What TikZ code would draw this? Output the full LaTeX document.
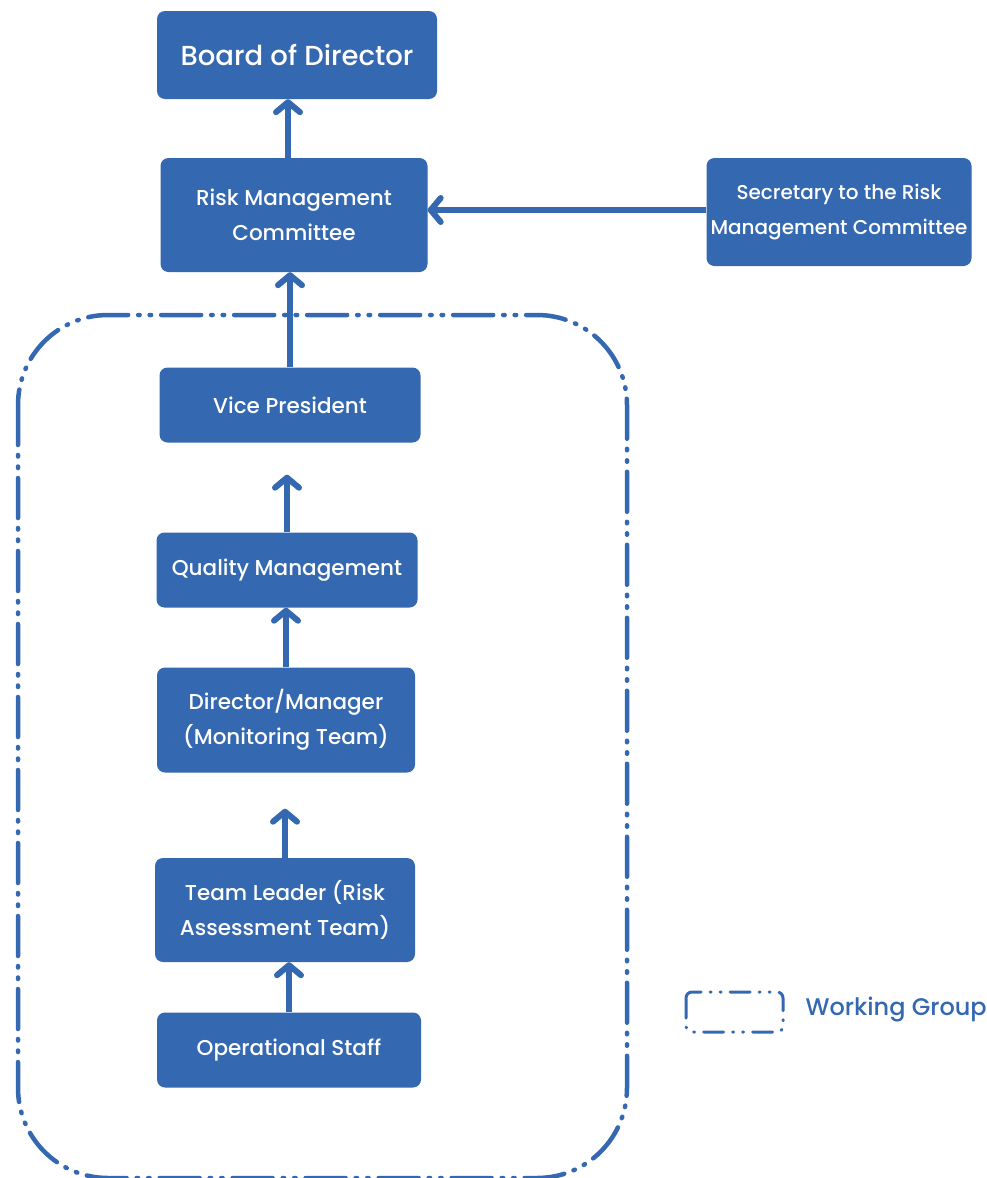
\documentclass[tikz,border=0pt]{standalone}
\usepackage{fontspec}
\setmainfont{Poppins}[BoldFont={Poppins Medium}]
\usetikzlibrary{arrows.meta}
\definecolor{rmblue}{RGB}{52,104,176}
\begin{document}
\begin{tikzpicture}[x=1pt,y=-1pt,
  box/.style={fill=rmblue, rounded corners=8pt, text=white, align=center, inner sep=0pt,
    font=\bfseries\fontsize{21.5}{35}\selectfont},
  link/.style={draw=rmblue, line width=6pt, -{Straight Barb[length=10pt,width=24pt,line cap=round,round]}},
  wg/.style={draw=rmblue, line width=4.5pt, line cap=round,
    dash pattern=on 40pt off 10pt on 1.5pt off 10pt on 1.5pt off 10pt, rounded corners=90pt},
  wgsmall/.style={draw=rmblue, line width=3pt, line cap=round,
    dash pattern=on 20pt off 9pt on 1pt off 9pt on 1pt off 9pt, rounded corners=6pt}]
\useasboundingbox (0,0) rectangle (987,1178);
\clip (0,0) rectangle (987,1178);
\fill[white] (0,0) rectangle (987,1178);

\draw[wg] (18,315) rectangle (627,1178);

\node[box, minimum width=280pt, minimum height=88pt, font=\bfseries\fontsize{27.5}{30}\selectfont] (bod) at (297,55) {Board of Director};
\node[box, minimum width=267pt, minimum height=114pt] (rmc) at (294,215) {Risk Management\\Committee};
\node[box, minimum width=265pt, minimum height=108pt, font=\bfseries\fontsize{20}{35}\selectfont] (sec) at (839,212) {Secretary to the Risk\\Management Committee};
\node[box, minimum width=261pt, minimum height=75pt] (vp) at (290,405) {Vice President};
\node[box, minimum width=261pt, minimum height=75pt] (qm) at (287,570) {Quality Management};
\node[box, minimum width=258pt, minimum height=105pt] (dm) at (286,720) {Director/Manager\\(Monitoring Team)};
\node[box, minimum width=260pt, minimum height=104pt] (tl) at (285,910) {Team Leader (Risk\\Assessment Team)};
\node[box, minimum width=264pt, minimum height=75pt] (os) at (289,1050) {Operational Staff};

\draw[link] ([xshift=-6pt]rmc.north) -- ([xshift=-6pt]rmc.north |- bod.south);
\draw[link] (vp.north) -- (vp.north |- rmc.south);
\draw[link] (qm.north) -- ([yshift=-32pt]qm.north |- vp.south);
\draw[link] (dm.north) -- (dm.north |- qm.south);
\draw[link] (tl.north) -- ([yshift=-36pt]tl.north |- dm.south);
\draw[link] (os.north) -- (os.north |- tl.south);
\draw[link] ([yshift=2pt]sec.west) -- ([yshift=2pt]sec.west -| rmc.east);

\draw[wgsmall] (686,992) rectangle (783,1032);
\node[text=rmblue, font=\bfseries\fontsize{24}{28}\selectfont, anchor=west] (wglabel) at (802,1010) {Working Group};
\end{tikzpicture}
\end{document}
